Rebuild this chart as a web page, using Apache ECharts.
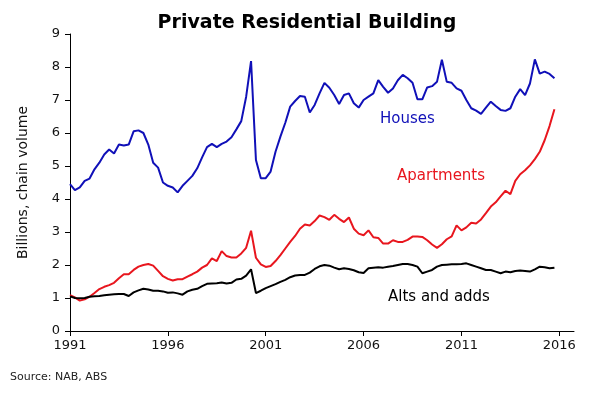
<!DOCTYPE html>
<html>
<head>
<meta charset="utf-8">
<script src="https://cdn.jsdelivr.net/npm/echarts@6/dist/echarts.min.js"></script>
<style>html,body{margin:0;padding:0;background:#fff}#c{width:592px;height:394px}</style>
</head>
<body>
<div id="c"></div>
<script>
const startYear = 1991;
const nQuarters = 104;
const categories = [];
for (let i = 0; i < nQuarters; i++) categories.push((startYear + Math.floor(i / 4)) + 'Q' + (i % 4 + 1));

const houses = [4.45,4.27,4.35,4.55,4.62,4.9,5.1,5.35,5.5,5.38,5.65,5.62,5.65,6.05,6.08,6.0,5.65,5.1,4.95,4.5,
4.4,4.35,4.2,4.4,4.55,4.7,4.93,5.26,5.57,5.67,5.57,5.67,5.74,5.87,6.11,6.36,7.1,8.18,5.18,4.63,
4.63,4.83,5.43,5.89,6.31,6.8,6.97,7.12,7.1,6.62,6.85,7.2,7.52,7.37,7.15,6.88,7.15,7.2,6.9,6.77,
7.0,7.1,7.2,7.6,7.4,7.22,7.35,7.6,7.76,7.66,7.52,7.02,7.02,7.38,7.42,7.55,8.22,7.55,7.52,7.35,
7.28,7.0,6.75,6.68,6.58,6.77,6.95,6.82,6.7,6.67,6.75,7.1,7.33,7.15,7.5,8.23,7.8,7.86,7.79,7.66];

const apartments = [1.09,1.02,0.92,0.96,1.04,1.15,1.27,1.34,1.39,1.46,1.6,1.72,1.72,1.85,1.95,2.0,2.03,1.98,1.82,1.66,
1.58,1.53,1.57,1.57,1.65,1.72,1.8,1.92,2.0,2.2,2.12,2.42,2.27,2.23,2.23,2.35,2.52,3.04,2.22,2.02,
1.94,1.97,2.12,2.3,2.5,2.7,2.88,3.1,3.23,3.2,3.33,3.5,3.45,3.37,3.52,3.4,3.3,3.44,3.1,2.95,
2.9,3.05,2.84,2.82,2.65,2.65,2.75,2.7,2.7,2.76,2.86,2.86,2.85,2.75,2.62,2.52,2.63,2.78,2.87,3.2,
3.05,3.14,3.28,3.26,3.38,3.57,3.77,3.9,4.08,4.25,4.15,4.55,4.75,4.87,5.02,5.21,5.43,5.78,6.21,6.72];

const altsAdds = [1.05,1.0,0.99,1.0,1.04,1.05,1.06,1.08,1.1,1.11,1.12,1.12,1.06,1.17,1.23,1.28,1.26,1.22,1.22,1.2,
1.16,1.17,1.14,1.1,1.2,1.25,1.28,1.36,1.43,1.44,1.45,1.47,1.44,1.46,1.56,1.58,1.68,1.87,1.15,1.22,
1.3,1.36,1.42,1.49,1.55,1.63,1.68,1.7,1.7,1.77,1.88,1.96,2.0,1.98,1.92,1.87,1.9,1.88,1.84,1.78,
1.76,1.9,1.92,1.93,1.92,1.95,1.97,2.0,2.03,2.03,2.0,1.95,1.75,1.8,1.85,1.95,2.0,2.01,2.02,2.02,
2.03,2.05,2.0,1.95,1.9,1.85,1.85,1.8,1.75,1.8,1.78,1.82,1.83,1.82,1.8,1.87,1.95,1.93,1.9,1.92];

const yTicks = [0,1,2,3,4,5,6,7,8,9];

const chart = echarts.init(document.getElementById('c'), null, {renderer: 'canvas'});
const tickFont = 'DejaVu Sans';
chart.setOption({
  animation: false,
  title: {
    text: 'Private Residential Building',
    left: 302, top: 9, textAlign: 'center',
    textStyle: {fontFamily: 'DejaVu Sans', fontWeight: 'bold', fontSize: 19, color: '#000'}
  },
  grid: {left: 70, right: 18, top: 34, bottom: 63, containLabel: false},
  xAxis: {
    type: 'category', data: categories, boundaryGap: false,
    axisLine: {lineStyle: {color: '#000', width: 1}},
    axisTick: {show: true, length: 5, inside: false, interval: (i) => i % 20 === 0, lineStyle: {color: '#000'}},
    axisLabel: {interval: (i) => i % 20 === 0, formatter: (v) => v.slice(0, 4), color: '#111',
      fontFamily: tickFont, fontSize: 13, margin: 8},
    splitLine: {show: false}
  },
  yAxis: {
    type: 'value', min: yTicks[0], max: yTicks[yTicks.length - 1], interval: 1,
    name: 'Billions, chain volume', nameLocation: 'middle', nameGap: 40, nameRotate: 90,
    nameTextStyle: {fontFamily: tickFont, fontSize: 14, color: '#111'},
    axisLine: {show: true, lineStyle: {color: '#000', width: 1}},
    axisTick: {show: true, length: 5, lineStyle: {color: '#000'}},
    axisLabel: {color: '#111', fontFamily: tickFont, fontSize: 13, margin: 10},
    splitLine: {show: false}
  },
  series: [
    {name: 'Houses', type: 'line', data: houses, showSymbol: false, lineStyle: {color: '#1010b8', width: 2}, itemStyle: {color: '#1010b8'}},
    {name: 'Apartments', type: 'line', data: apartments, showSymbol: false, lineStyle: {color: '#e8161e', width: 2}, itemStyle: {color: '#e8161e'}},
    {name: 'Alts and adds', type: 'line', data: altsAdds, showSymbol: false, lineStyle: {color: '#000', width: 2}, itemStyle: {color: '#000'}}
  ],
  graphic: [
    {type: 'text', left: 380, top: 112, style: {text: 'Houses', fill: '#1010b8', font: '15px "DejaVu Sans"'}},
    {type: 'text', left: 397, top: 169, style: {text: 'Apartments', fill: '#e8161e', font: '15px "DejaVu Sans"'}},
    {type: 'text', left: 388, top: 290, style: {text: 'Alts and adds', fill: '#000', font: '15px "DejaVu Sans"'}},
    {type: 'text', left: 10, top: 372, style: {text: 'Source: NAB, ABS', fill: '#222', font: '11px "DejaVu Sans"'}}
  ]
});
</script>
</body>
</html>
